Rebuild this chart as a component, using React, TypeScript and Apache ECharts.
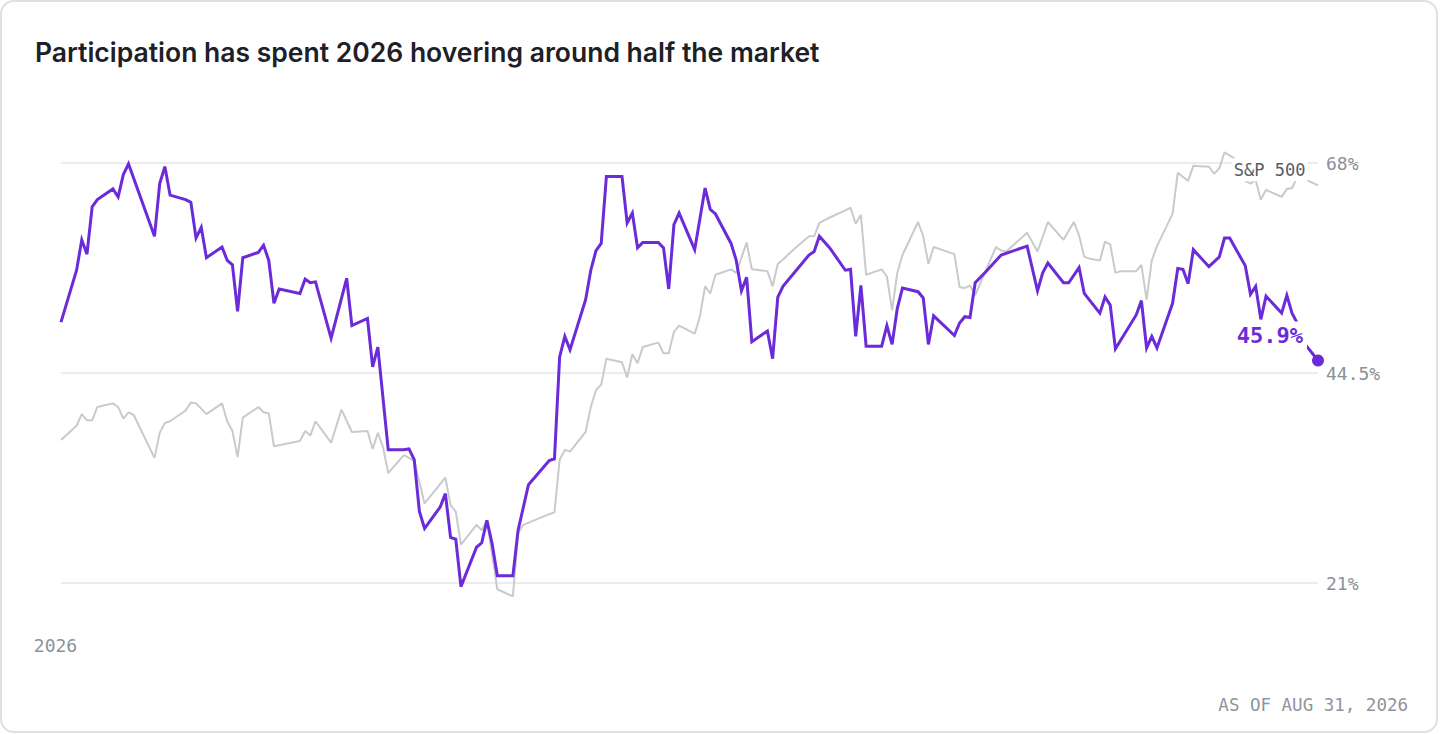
import React, { useEffect, useRef } from "react";
import * as echarts from "echarts";

const TITLE = "Participation has spent 2026 hovering around half the market";
const YEAR_LABEL = "2026";
const FOOTNOTE = "AS OF AUG 31, 2026";
const BENCHMARK_NAME = "S&P 500";
const Y_TICKS = [21, 44.5, 68];
const FIRST_DAY = 0;
const LAST_DAY = 242; // days since Jan 1, 2026 (Aug 31)

const participationDays = [
  0, 3, 4, 5, 6, 7, 8, 10, 11, 12, 13, 18, 19, 20, 21, 24, 25, 26, 27, 28, 31, 32, 33, 34, 35,
  38, 39, 40, 41, 42, 46, 47, 48, 49, 52, 55, 56, 59, 60, 61, 63, 66, 67, 68, 69, 70, 73, 74, 75,
  76, 77, 80, 81, 82, 83, 84, 87, 88, 90, 94, 95, 96, 97, 98, 101, 102, 103, 104, 105, 108, 109,
  110, 111, 112, 115, 116, 117, 118, 119, 122, 124, 125, 126, 129, 130, 131, 132, 133, 136, 137,
  138, 139, 144, 145, 146, 148, 151, 152, 153, 154, 155, 158, 159, 160, 161, 162, 165, 166, 167,
  168, 172, 173, 174, 175, 176, 178, 181, 186, 188, 189, 190, 193, 194, 196, 197, 200, 201, 202,
  203, 207, 208, 209, 210, 211, 214, 215, 216, 217, 218, 221, 223, 224, 225, 228, 229, 230, 231,
  232, 235, 236, 237, 238, 239, 242,
];
const participationValues = [
  50.2, 56.0, 59.4, 57.8, 63.1, 63.9, 64.3, 65.1, 64.2, 66.7, 67.9, 59.8, 65.7, 67.6, 64.4, 63.9,
  63.6, 59.6, 60.8, 57.4, 58.6, 57.1, 56.6, 51.4, 57.4, 58.0, 58.8, 57.1, 52.3, 53.9, 53.4, 55.0,
  54.6, 54.7, 48.4, 55.1, 49.8, 50.6, 45.2, 47.4, 35.9, 35.9, 36.0, 34.8, 29.0, 27.1, 29.5, 31.0,
  26.1, 25.9, 20.6, 25.0, 25.5, 28.0, 25.4, 21.8, 21.8, 26.9, 32.0, 34.7, 34.9, 46.3, 48.6, 47.1,
  52.7, 56.0, 58.2, 59.0, 66.5, 66.5, 61.3, 62.4, 58.5, 59.1, 59.1, 58.5, 53.9, 61.1, 62.4, 58.3,
  65.2, 62.8, 62.3, 59.0, 57.1, 53.7, 55.2, 48.0, 49.2, 46.1, 53.0, 54.2, 57.7, 58.1, 59.8, 58.5,
  56.0, 56.1, 48.6, 54.3, 47.5, 47.5, 49.8, 47.7, 51.7, 54.0, 53.6, 52.9, 47.7, 50.9, 48.7, 50.1,
  50.8, 50.7, 54.6, 55.8, 57.7, 58.7, 53.7, 55.7, 56.8, 54.6, 54.6, 56.3, 53.4, 51.2, 53.0, 52.1,
  47.2, 51.0, 52.6, 47.3, 48.6, 47.3, 52.3, 56.2, 56.1, 54.5, 58.3, 56.4, 57.5, 59.6, 59.6, 56.5,
  53.3, 54.2, 50.5, 53.1, 51.2, 53.2, 51.2, 50.1, 48.1, 45.9,
];

const sp500Days = [
  0, 3, 4, 5, 6, 7, 10, 11, 12, 13, 14, 18, 19, 20, 21, 24, 25, 26, 28, 31, 32, 33, 34, 35, 38,
  39, 40, 41, 46, 47, 48, 49, 52, 54, 56, 59, 60, 61, 62, 63, 66, 68, 70, 74, 75, 76, 77, 80, 81,
  82, 84, 87, 88, 89, 94, 95, 96, 97, 98, 101, 102, 103, 104, 105, 108, 109, 110, 111, 112, 115,
  116, 117, 118, 119, 122, 123, 124, 125, 126, 129, 130, 132, 133, 136, 137, 138, 139, 141, 144,
  145, 146, 148, 151, 152, 153, 154, 155, 158, 159, 160, 161, 162, 165, 166, 167, 168, 172, 173,
  174, 175, 176, 180, 181, 182, 186, 188, 190, 193, 195, 196, 197, 198, 200, 201, 202, 203, 204,
  207, 208, 209, 210, 211, 214, 215, 217, 218, 220, 221, 222, 223, 224, 226, 228, 229, 230, 231,
  232, 235, 236, 237, 238, 239, 242,
];
const sp500Values = [
  37.0, 38.6, 39.9, 39.2, 39.2, 40.7, 41.1, 40.7, 39.4, 40.1, 39.8, 35.0, 37.8, 38.9, 39.1, 40.3,
  41.2, 41.1, 39.9, 41.1, 39.1, 38.0, 35.1, 39.5, 40.7, 40.1, 40.0, 36.3, 36.9, 38.0, 37.5, 39.1,
  36.7, 40.4, 37.9, 38.0, 36.0, 37.8, 36.2, 33.3, 35.3, 34.7, 29.9, 32.8, 29.7, 29.0, 25.3, 27.5,
  26.9, 28.0, 20.3, 19.5, 26.6, 27.5, 28.7, 28.9, 34.8, 35.9, 35.7, 37.9, 40.7, 42.6, 43.2, 46.1,
  45.7, 44.0, 46.6, 45.6, 47.4, 47.9, 46.7, 46.7, 49.1, 49.8, 48.9, 50.8, 54.2, 53.4, 55.5, 56.1,
  55.7, 59.1, 56.1, 55.9, 54.2, 56.7, 57.2, 58.3, 59.8, 59.8, 61.3, 61.9, 62.7, 63.0, 61.2, 62.2,
  55.5, 56.1, 55.3, 51.5, 55.7, 57.7, 61.4, 59.8, 56.7, 58.6, 57.8, 54.1, 54.0, 54.3, 53.2, 58.6,
  58.2, 58.1, 60.2, 58.1, 61.4, 59.4, 61.4, 59.9, 57.5, 57.3, 57.1, 59.2, 58.9, 55.7, 55.9, 55.9,
  56.6, 52.7, 57.1, 58.7, 62.3, 66.9, 66.0, 67.7, 67.6, 67.6, 66.8, 67.4, 69.2, 68.5, 66.0, 65.7,
  66.1, 63.9, 65.0, 64.2, 65.1, 65.2, 66.4, 66.3, 65.5,
];

const PURPLE = "#6b2bd9";
const GRAY_LINE = "#c8cacd";
const AXIS_TEXT = "#8b9098";
const MONO = "'DejaVu Sans Mono', 'Liberation Mono', monospace";

export default function App() {
  const ref = useRef<HTMLDivElement>(null);

  useEffect(() => {
    if (!ref.current) return;
    const chart = echarts.init(ref.current, null, { renderer: "svg" });

    const pData = participationDays.map((d, i) => [d, participationValues[i]]);
    const sData = sp500Days.map((d, i) => [d, sp500Values[i]]);
    const pLast = pData[pData.length - 1];
    const sLast = sData[sData.length - 1];

    chart.setOption({
      animation: false,
      backgroundColor: "#ffffff",
      grid: { left: 61, right: 122, top: 163, bottom: 151, containLabel: false },
      xAxis: {
        type: "value",
        min: FIRST_DAY,
        max: LAST_DAY,
        interval: LAST_DAY - FIRST_DAY,
        axisLine: { show: false },
        axisTick: { show: false },
        splitLine: { show: false },
        axisLabel: {
          show: true,
          margin: 62,
          verticalAlign: "middle",
          align: "center",
          padding: [0, 11, 0, 0],
          fontFamily: MONO,
          fontSize: 18,
          color: AXIS_TEXT,
          formatter: (v: number) => (v === FIRST_DAY ? YEAR_LABEL : ""),
        },
      },
      yAxis: {
        type: "value",
        position: "right",
        min: Y_TICKS[0],
        max: Y_TICKS[2],
        interval: Y_TICKS[1] - Y_TICKS[0],
        axisLine: { show: false },
        axisTick: { show: false },
        splitLine: { show: true, lineStyle: { color: "#ececef", width: 2 } },
        axisLabel: {
          margin: 8,
          fontFamily: MONO,
          fontSize: 18,
          color: AXIS_TEXT,
          formatter: (v: number) => `${v}%`,
        },
      },
      graphic: [
        {
          type: "text",
          x: 35,
          y: 52,
          style: {
            text: TITLE,
            fill: "#1d2127",
            fontFamily: "Inter, 'Noto Sans', sans-serif",
            fontWeight: 600,
            fontSize: 26.5,
            align: "left",
            verticalAlign: "middle",
            textAlign: "left",
            textVerticalAlign: "middle",
          },
        },
        {
          type: "text",
          x: 1408,
          y: 705,
          style: {
            text: FOOTNOTE,
            fill: "#8f949b",
            fontFamily: MONO,
            fontSize: 17.5,
            align: "right",
            verticalAlign: "middle",
            textAlign: "right",
            textVerticalAlign: "middle",
          },
        },
      ],
      series: [
        {
          name: BENCHMARK_NAME,
          type: "line",
          data: sData,
          showSymbol: false,
          clip: false,
          z: 2,
          lineStyle: { color: GRAY_LINE, width: 2 },
          itemStyle: { color: GRAY_LINE },
          markPoint: {
            symbol: "circle",
            symbolSize: 1,
            itemStyle: { color: "rgba(0,0,0,0)" },
            data: [{ coord: sLast, value: sLast[1] }],
            label: {
              show: true,
              formatter: () => BENCHMARK_NAME,
              position: [-10, -15],
              align: "right",
              verticalAlign: "middle",
              backgroundColor: "#ffffff",
              padding: [3, 2, 3, 2],
              fontFamily: MONO,
              fontSize: 17,
              color: "#575c63",
            },
          },
        },
        {
          name: "Participation",
          type: "line",
          data: pData,
          showSymbol: false,
          clip: false,
          z: 3,
          lineStyle: { color: PURPLE, width: 3, join: "miter" },
          itemStyle: { color: PURPLE },
          markPoint: {
            symbol: "circle",
            symbolSize: 12,
            itemStyle: { color: PURPLE },
            data: [{ coord: pLast, value: pLast[1] }],
            label: {
              show: true,
              formatter: (p: any) => `${Number(p.value).toFixed(1)}%`,
              position: [-5, -19],
              align: "right",
              verticalAlign: "middle",
              backgroundColor: "#ffffff",
              padding: [3, 4, 3, 4],
              fontFamily: MONO,
              fontWeight: "bold",
              fontSize: 22,
              color: PURPLE,
            },
          },
        },
      ],
    });

    return () => chart.dispose();
  }, []);

  return (
    <div style={{ position: "fixed", left: 0, top: 0, width: 1440, height: 734, background: "#ffffff" }}>
      <div ref={ref} style={{ position: "absolute", left: 0, top: 0, width: 1440, height: 734 }} />
      <div
        style={{
          position: "absolute",
          left: 0,
          top: 0,
          width: 1438,
          height: 733,
          boxSizing: "border-box",
          border: "2px solid #dde1e7",
          borderRadius: 14,
          pointerEvents: "none",
        }}
      />
    </div>
  );
}
